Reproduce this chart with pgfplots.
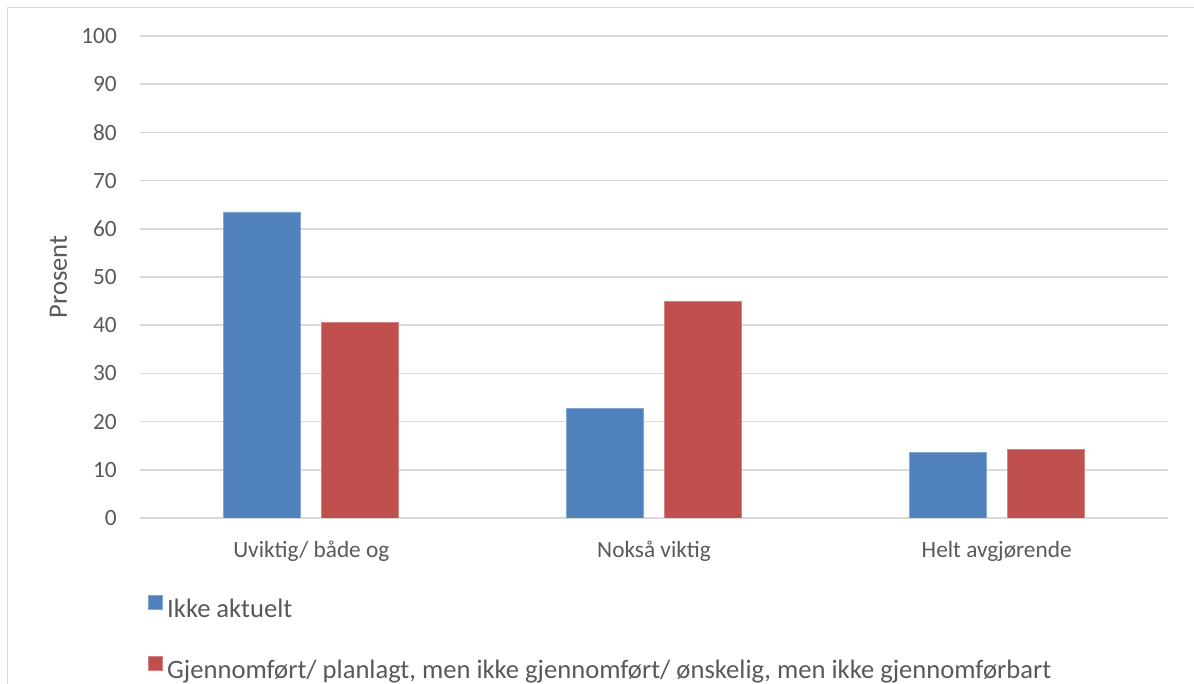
\documentclass[border=0pt]{standalone}
\usepackage{fontspec}
\setmainfont{Carlito}
\usepackage{pgfplots}
\pgfplotsset{compat=1.18}
\definecolor{bblue}{HTML}{4F81BD}
\definecolor{bred}{HTML}{C0504D}
\definecolor{gridc}{HTML}{D9D9D9}
\definecolor{txt}{HTML}{595959}

\newcommand{\tickfont}{\fontsize{23.3bp}{27bp}\selectfont}
\newcommand{\bigfont}{\fontsize{26.6bp}{30bp}\selectfont}

\begin{document}
\begin{tikzpicture}[x=1bp,y=1bp]
\useasboundingbox (0,0) rectangle (1194,684);
\draw[gridc, line width=1.5bp] (7.5,0) -- (7.5,676.5) -- (1194,676.5);
\begin{axis}[
    at={(140bp,166bp)}, anchor=south west,
    scale only axis, width=1028bp, height=482bp,
    xmin=0.5, xmax=3.5, ymin=0, ymax=100,
    xtick={1,2,3},
    xticklabels={Uviktig/ både og, Nokså viktig, Helt avgjørende},
    ytick={0,10,...,100},
    ybar=21bp, bar width=77bp,
    axis line style={draw=none},
    major tick length=0,
    ymajorgrids, grid style={gridc, line width=1.5bp},
    /pgf/number format/assume math mode=true,
    yticklabel style={font=\tickfont, text=txt, anchor=east, inner sep=0, xshift=-23bp},
    xticklabel style={font=\tickfont, text=txt, anchor=base, inner sep=0, yshift=-39.5bp},
    ylabel={Prosent},
    every axis y label/.style={at={(rel axis cs:0,0.5)}, xshift=-81.5bp, rotate=90,
        anchor=center, inner sep=0, font=\bigfont, text=txt},
    legend image code/.code={\fill[#1] (0bp,1.3bp) rectangle (14.4bp,15.7bp);},
    legend cell align=left,
    legend style={at={(rel axis cs:0,0)}, anchor=north west, xshift=8bp, yshift=-76.7bp,
        draw=none, fill=none, inner sep=0, outer sep=0, column sep=4bp, row sep=33.3bp,
        font=\bigfont, text=txt,
        nodes={inner sep=0, text height=18bp, text depth=5bp}},
]
\addplot[fill=bblue, draw=bblue!70!white, line width=0.8bp] coordinates {(1,63.5) (2,22.7) (3,13.6)};
\addlegendentry{Ikke aktuelt}
\addplot[fill=bred, draw=bred!70!white, line width=0.8bp] coordinates {(1,40.5) (2,44.9) (3,14.3)};
\addlegendentry{Gjennomført/ planlagt, men ikke gjennomført/ ønskelig, men ikke gjennomførbart}
\end{axis}
\end{tikzpicture}
\end{document}
